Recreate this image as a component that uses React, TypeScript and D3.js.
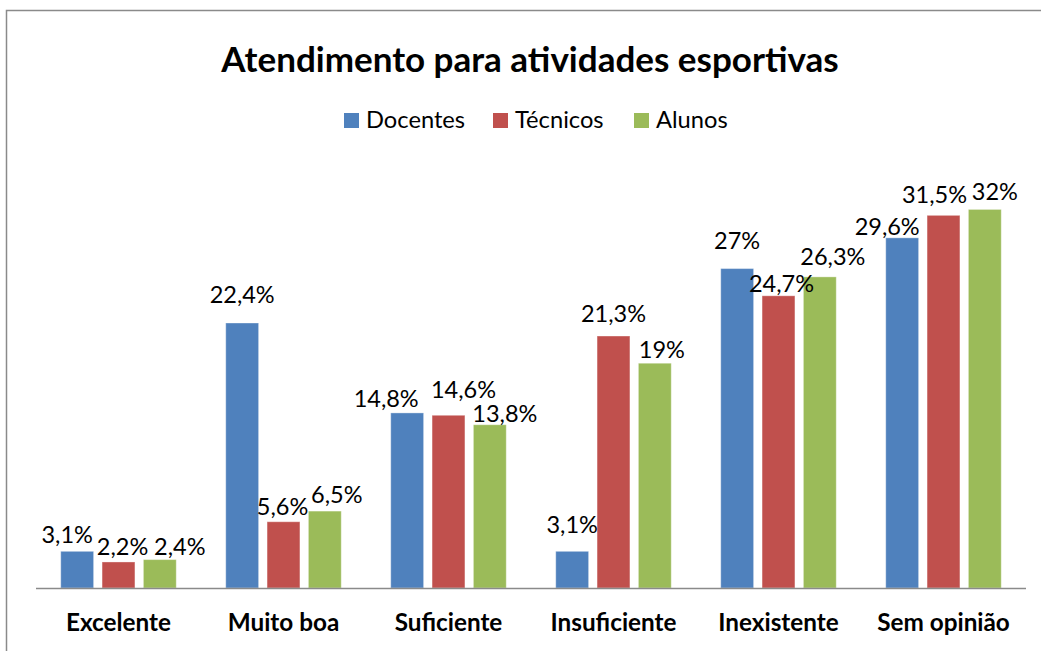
import React, { useEffect, useRef } from 'react';
import * as d3 from 'd3';

// categories and series values (percent)
const categories = ['Excelente', 'Muito boa', 'Suficiente', 'Insuficiente', 'Inexistente', 'Sem opinião'];
const seriesNames = ['Docentes', 'Técnicos', 'Alunos'];
const docentes = [3.1, 22.4, 14.8, 3.1, 27, 29.6];
const tecnicos = [2.2, 5.6, 14.6, 21.3, 24.7, 31.5];
const alunos = [2.4, 6.5, 13.8, 19, 26.3, 32];

const colours = ['#4F81BD', '#C0504D', '#9BBB59'];

// label nudges (Excel moved some labels to avoid overlap), per series per category
const labelDx = [
    [-10, 0, -21, 0, 0, -15],
    [4, -1, 15, 0, 3, -9],
    [20, 12, 15, 7, 13, 10]
];
const labelGap = [
    [8, 20, 6, 18, 20, 3],
    [7, 7, 17, 14, 4, 12],
    [5, 8, 3, 5, 12, 9]
];

const W = 1041;
const H = 651;
const FONT = 'Lato, "Open Sans", sans-serif';

const App = () => {
    const ref = useRef<SVGSVGElement>(null);

    useEffect(() => {
        const svg = d3.select(ref.current);
        svg.selectAll('*').remove();

        const values = [docentes, tecnicos, alunos];
        const left = 36, right = 1026, bottom = 588;

        // chart frame (right and bottom edges fall outside the picture)
        svg.append('rect')
            .attr('x', 6.5).attr('y', 10.5)
            .attr('width', 1100).attr('height', 700)
            .attr('fill', 'white')
            .attr('stroke', '#8a8a8a')
            .attr('stroke-width', 1.5);

        const x0 = d3.scaleBand()
            .domain(categories)
            .range([left, right])
            .paddingInner(0.3)
            .paddingOuter(0.15);

        const x1 = d3.scaleBand()
            .domain(seriesNames)
            .range([0, x0.bandwidth()])
            .paddingInner(0.205);

        const y = d3.scaleLinear()
            .domain([0, 35])
            .range([bottom, bottom - 35 * 11.83]);

        const fmt = (v: number) => String(v).replace('.', ',') + '%';

        seriesNames.forEach((s, si) => {
            const g = svg.append('g');
            g.selectAll('rect')
                .data(values[si])
                .enter()
                .append('rect')
                .attr('x', (d, i) => (x0(categories[i]) as number) + (x1(s) as number))
                .attr('y', (d) => y(d))
                .attr('width', x1.bandwidth())
                .attr('height', (d) => bottom - y(d))
                .attr('fill', colours[si])
                .attr('stroke', 'rgba(255,255,255,0.35)')
                .attr('stroke-width', 1);
        });

        // x axis line
        svg.append('line')
            .attr('x1', left).attr('x2', right)
            .attr('y1', bottom + 0.5).attr('y2', bottom + 0.5)
            .attr('stroke', '#8a8a8a')
            .attr('stroke-width', 1.5);

        // data labels
        seriesNames.forEach((s, si) => {
            svg.append('g').selectAll('text')
                .data(values[si])
                .enter()
                .append('text')
                .attr('x', (d, i) => (x0(categories[i]) as number) + (x1(s) as number) + x1.bandwidth() / 2 + labelDx[si][i])
                .attr('y', (d, i) => y(d) - labelGap[si][i])
                .attr('text-anchor', 'middle')
                .attr('font-family', FONT)
                .attr('font-size', 23.5)
                .attr('fill', '#000')
                .text((d) => fmt(d));
        });

        // category labels
        svg.append('g').selectAll('text')
            .data(categories)
            .enter()
            .append('text')
            .attr('x', (d) => (x0(d) as number) + x0.bandwidth() / 2)
            .attr('y', 631)
            .attr('text-anchor', 'middle')
            .attr('font-family', FONT)
            .attr('font-weight', 'bold')
            .attr('font-size', 24.3)
            .text((d) => d);

        // title
        svg.append('text')
            .attr('x', 530)
            .attr('y', 72)
            .attr('text-anchor', 'middle')
            .attr('font-family', FONT)
            .attr('font-weight', 'bold')
            .attr('font-size', 35)
            .text('Atendimento para atividades esportivas');

        // legend
        const legendX = [344, 493, 634];
        seriesNames.forEach((s, si) => {
            svg.append('rect')
                .attr('x', legendX[si]).attr('y', 113)
                .attr('width', 15).attr('height', 15)
                .attr('fill', colours[si]);
            svg.append('text')
                .attr('x', legendX[si] + 22)
                .attr('y', 128)
                .attr('font-family', FONT)
                .attr('font-size', 23.7)
                .text(s);
        });
    }, []);

    return (
        <svg ref={ref} width={W} height={H}
             style={{position: 'absolute', left: 0, top: 0, background: 'white'}}/>
    );
};

export default App;
